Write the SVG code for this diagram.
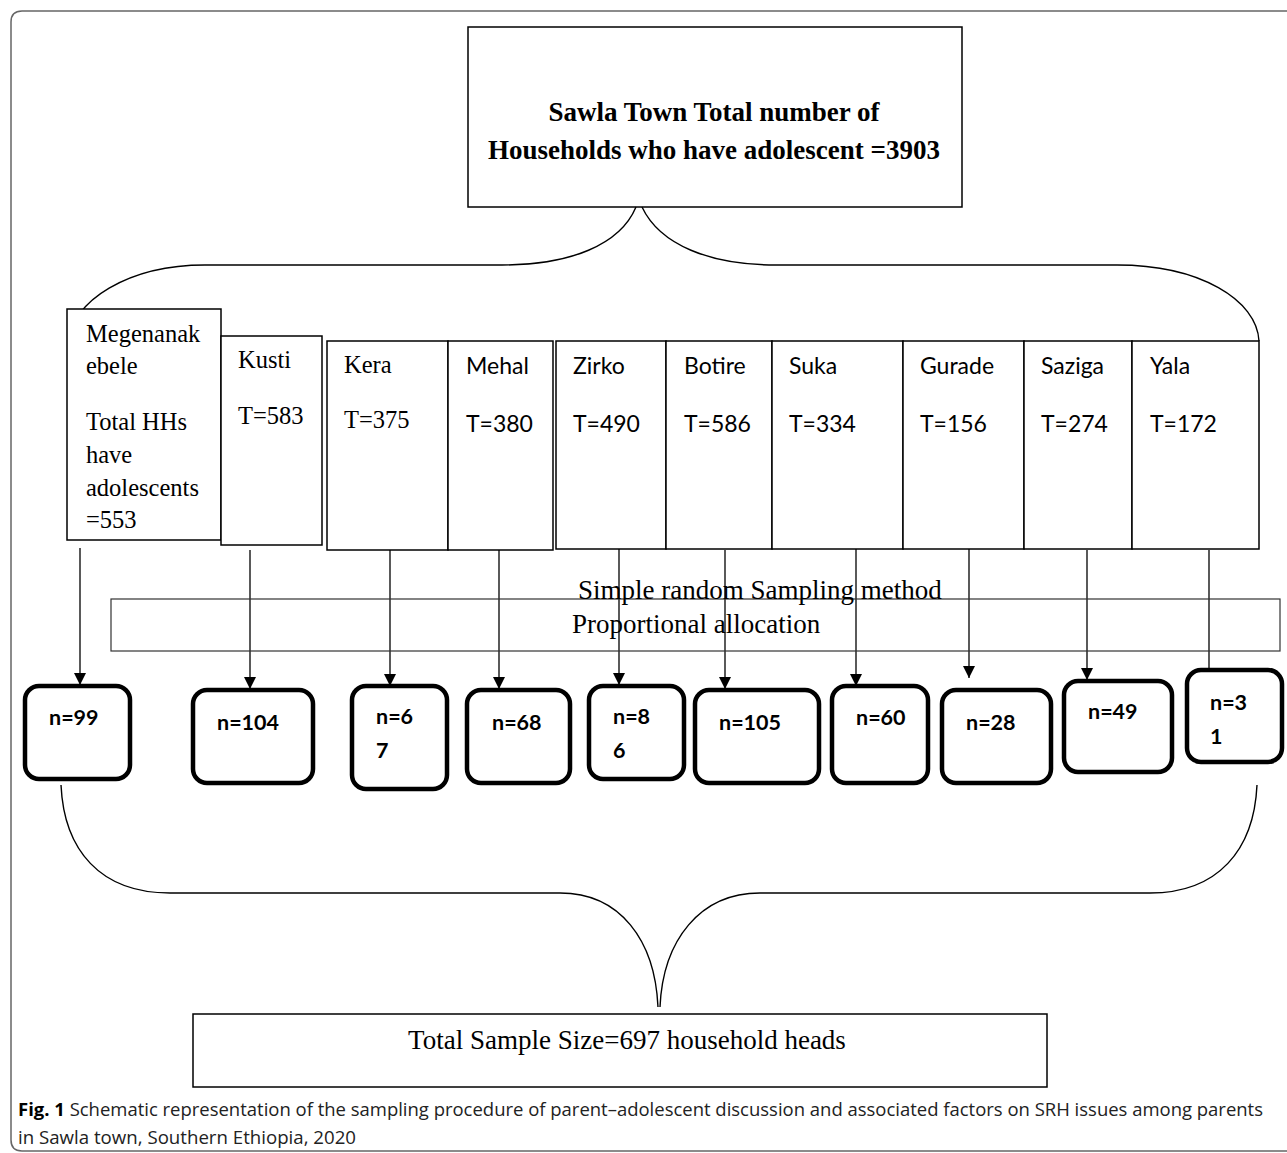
<svg xmlns="http://www.w3.org/2000/svg" width="1287" height="1153" viewBox="0 0 1287 1153">
<defs>
<marker id="ah" viewBox="0 0 10 10" refX="10" refY="5" markerWidth="12" markerHeight="12" markerUnits="userSpaceOnUse" orient="auto">
<path d="M0,0 L10,5 L0,10 Z" fill="#000"/>
</marker>
</defs>
<style>
.bx{fill:#fff;stroke:#000;stroke-width:1.5}
.nb{fill:#fff;stroke:#000;stroke-width:4.5}
.ln{fill:none;stroke:#000;stroke-width:1.4}
.ar{fill:none;stroke:#000;stroke-width:1.3;marker-end:url(#ah)}
.tm{font-family:"Liberation Serif","Times New Roman",serif;font-size:24.5px;fill:#000}
.cb{font-family:Lato,"Liberation Sans",sans-serif;font-size:23px;fill:#000}
.nt{font-family:Lato,"Liberation Sans",sans-serif;font-size:21.5px;font-weight:bold;fill:#000}
.sr{font-family:"Liberation Serif","Times New Roman",serif;font-size:27px;fill:#000}
.cap{font-family:"Open Sans","Noto Sans",sans-serif;font-size:18px;fill:#222}
</style>
<rect width="1287" height="1153" fill="#fff"/>
<path d="M1290,11 H22 Q11,11 11,22 V1140 Q11,1151 22,1151 H1290" fill="none" stroke="#666" stroke-width="1.5"/>

<g id="top">
<rect class="bx" x="468" y="27" width="494" height="180"/>
<text x="714" y="121" text-anchor="middle" font-family="Liberation Serif,serif" font-weight="bold" font-size="27">Sawla Town Total number of</text>
<text x="714" y="159" text-anchor="middle" font-family="Liberation Serif,serif" font-weight="bold" font-size="27">Households who have adolescent =3903</text>
</g>

<g id="connectors">
<path class="ln" d="M636,207 C620,245 570,265 502,265 H205 C130,265 70,300 68,345"/>
<path class="ln" d="M642,207 C660,245 710,265 776,265 H1117 C1200,265 1257,300 1259,341"/>
<path class="ln" d="M61,785 C64,850 100,893 170,893 H560 C620,893 655,940 658,1007"/>
<path class="ln" d="M1257,785 C1254,850 1218,893 1150,893 H760 C700,893 663,940 660,1007"/>
<line class="ar" x1="80" y1="548" x2="80" y2="685"/>
<line class="ar" x1="250" y1="550" x2="250" y2="689"/>
<line class="ar" x1="390" y1="550" x2="390" y2="686"/>
<line class="ar" x1="499" y1="550" x2="499" y2="689"/>
<line class="ar" x1="619" y1="545" x2="619" y2="685"/>
<line class="ar" x1="725" y1="550" x2="725" y2="689"/>
<line class="ar" x1="856" y1="549" x2="856" y2="686"/>
<line class="ar" x1="969" y1="539" x2="969" y2="678"/>
<line class="ar" x1="1087" y1="550" x2="1087" y2="680"/>
<line class="ar" x1="1209" y1="550" x2="1209" y2="684"/>
</g>

<g id="megenanakebele">
<rect class="bx" x="67" y="309" width="154" height="231"/>
<text class="tm" x="86" y="342">Megenanak</text>
<text class="tm" x="86" y="374">ebele</text>
<text class="tm" x="86" y="430">Total HHs</text>
<text class="tm" x="86" y="463">have</text>
<text class="tm" x="86" y="496">adolescents</text>
<text class="tm" x="86" y="528">=553</text>
</g>
<g id="kusti">
<rect class="bx" x="221" y="336" width="101" height="209"/>
<text class="tm" x="238" y="368">Kusti</text>
<text class="tm" x="238" y="424">T=583</text>
</g>
<g id="kera">
<rect class="bx" x="327" y="341" width="121" height="209"/>
<text class="tm" x="344" y="373">Kera</text>
<text class="tm" x="344" y="428">T=375</text>
</g>
<g id="mehal">
<rect class="bx" x="448" y="341" width="105" height="209"/>
<text class="cb" x="466" y="374">Mehal</text>
<text class="cb" x="466" y="432">T=380</text>
</g>
<g id="zirko">
<rect class="bx" x="556" y="341" width="110" height="208"/>
<text class="cb" x="573" y="374">Zirko</text>
<text class="cb" x="573" y="432">T=490</text>
</g>
<g id="botire">
<rect class="bx" x="666" y="341" width="106" height="208"/>
<text class="cb" x="684" y="374">Botire</text>
<text class="cb" x="684" y="432">T=586</text>
</g>
<g id="suka">
<rect class="bx" x="772" y="341" width="131" height="208"/>
<text class="cb" x="789" y="374">Suka</text>
<text class="cb" x="789" y="432">T=334</text>
</g>
<g id="gurade">
<rect class="bx" x="903" y="341" width="121" height="208"/>
<text class="cb" x="920" y="374">Gurade</text>
<text class="cb" x="920" y="432">T=156</text>
</g>
<g id="saziga">
<rect class="bx" x="1024" y="341" width="108" height="208"/>
<text class="cb" x="1041" y="374">Saziga</text>
<text class="cb" x="1041" y="432">T=274</text>
</g>
<g id="yala">
<rect class="bx" x="1132" y="341" width="127" height="208"/>
<text class="cb" x="1150" y="374">Yala</text>
<text class="cb" x="1150" y="432">T=172</text>
</g>

<g id="sampling">
<rect x="111" y="599" width="1169" height="52" fill="none" stroke="#333" stroke-width="1.2"/>
<text class="sr" x="578" y="599">Simple random Sampling method</text>
<text class="sr" x="572" y="633">Proportional allocation</text>
</g>

<g id="n99"><rect class="nb" x="25" y="686" width="105" height="93" rx="14"/><text class="nt" x="49" y="725">n=99</text></g>
<g id="n104"><rect class="nb" x="193" y="690" width="120" height="93" rx="14"/><text class="nt" x="217" y="730">n=104</text></g>
<g id="n67"><rect class="nb" x="352" y="686" width="95" height="103" rx="14"/><text class="nt" x="376" y="724">n=6</text><text class="nt" x="376" y="758">7</text></g>
<g id="n68"><rect class="nb" x="467" y="690" width="103" height="93" rx="14"/><text class="nt" x="492" y="730">n=68</text></g>
<g id="n86"><rect class="nb" x="589" y="686" width="95" height="93" rx="14"/><text class="nt" x="613" y="724">n=8</text><text class="nt" x="613" y="758">6</text></g>
<g id="n105"><rect class="nb" x="695" y="690" width="124" height="93" rx="14"/><text class="nt" x="719" y="730">n=105</text></g>
<g id="n60"><rect class="nb" x="832" y="686" width="96" height="97" rx="14"/><text class="nt" x="856" y="725">n=60</text></g>
<g id="n28"><rect class="nb" x="942" y="690" width="109" height="93" rx="14"/><text class="nt" x="966" y="730">n=28</text></g>
<g id="n49"><rect class="nb" x="1064" y="681" width="108" height="91" rx="14"/><text class="nt" x="1088" y="719">n=49</text></g>
<g id="n31"><rect class="nb" x="1187" y="670" width="95" height="92" rx="14"/><text class="nt" x="1210" y="710">n=3</text><text class="nt" x="1210" y="744">1</text></g>

<g id="total">
<rect class="bx" x="193" y="1014" width="854" height="73"/>
<text class="sr" x="627" y="1049" text-anchor="middle">Total Sample Size=697 household heads</text>
</g>

<g id="caption">
<text class="cap" x="18" y="1116" textLength="1245" lengthAdjust="spacingAndGlyphs"><tspan font-weight="bold" fill="#000">Fig. 1</tspan>  Schematic representation of the sampling procedure of parent–adolescent discussion and associated factors on SRH issues among parents</text>
<text class="cap" x="18" y="1144" textLength="338" lengthAdjust="spacingAndGlyphs">in Sawla town, Southern Ethiopia, 2020</text>
</g>
</svg>
